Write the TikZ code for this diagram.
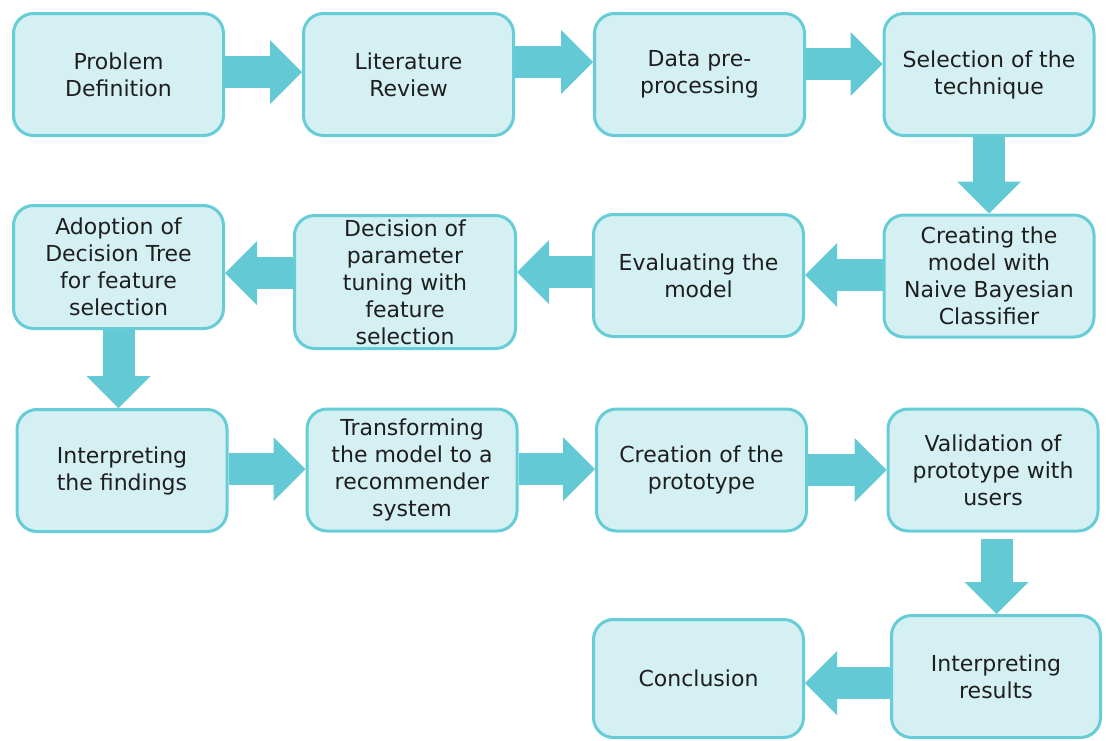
\documentclass[tikz,border=0pt]{standalone}
\usepackage{fontspec}
\setmainfont{DejaVu Sans}
\usetikzlibrary{arrows.meta}
\pgfdeclarelayer{background}
\pgfsetlayers{background,main}
\definecolor{boxfill}{RGB}{212,240,243}
\definecolor{boxedge}{RGB}{102,204,214}
\definecolor{flow}{RGB}{99,202,213}
\definecolor{ink}{RGB}{30,30,30}

\begin{document}
\begin{tikzpicture}[x=0.75pt,y=-0.75pt,
  stage/.style={draw=boxedge, fill=boxfill, line width=2.25pt,
    rounded corners=15pt, minimum width=157.5pt, minimum height=91.5pt,
    align=center, text=ink, inner sep=0pt,
    font=\fontsize{16.5}{20.25}\selectfont},
  flowarrow/.style={draw=flow, line width=24pt,
    -{Triangle[length=24pt 0, width=48pt 0, line width=0pt, fill=flow]}}
]
\useasboundingbox (0,0) rectangle (1106,740);

% row 1
\node[stage] (pd)  at (118.5,74.5) {Problem\\Definition};
\node[stage] (lr)  at (408.5,74.5) {Literature\\Review};
\node[stage] (dp)  at (699.5,74.5) {Data pre-\\processing};
\node[stage] (sel) at (989,74.5)   {Selection of the\\technique};

% row 2
\node[stage, minimum height=92.25pt] (ad) at (118.5,267)
  {Adoption of\\Decision Tree\\for feature\\selection};
\node[stage, minimum width=165.75pt, minimum height=99.75pt] (dec) at (405,282)
  {Decision of\\parameter\\tuning with\\feature\\selection};
\node[stage] (ev)  at (698.5,275.5) {Evaluating the\\model};
\node[stage] (cre) at (989,276)
  {Creating the\\model with\\Naive Bayesian\\Classifier};

% row 3
\node[stage] (if)  at (122,470.5) {Interpreting\\the findings};
\node[stage] (tr)  at (412,470)
  {Transforming\\the model to a\\recommender\\system};
\node[stage] (cp)  at (701.5,470) {Creation of the\\prototype};
\node[stage] (val) at (993,470)   {Validation of\\prototype with\\users};

% row 4
\node[stage, minimum height=88.5pt] (con) at (698.5,678.5) {Conclusion};
\node[stage, minimum width=156.75pt] (ir) at (996,676.5) {Interpreting\\results};

% block arrows behind the boxes
\begin{pgfonlayer}{background}
\draw[flowarrow] (pd.east |- 0,72) -- (lr.west |- 0,72);
\draw[flowarrow] (lr.east |- 0,62) -- (dp.west |- 0,62);
\draw[flowarrow] (dp.east |- 0,64) -- (sel.west |- 0,64);
\draw[flowarrow] (sel.south) -- (cre.north);
\draw[flowarrow] (cre.west |- 0,275) -- (ev.east |- 0,275);
\draw[flowarrow] (ev.west |- 0,272) -- (dec.east |- 0,272);
\draw[flowarrow] (dec.west |- 0,273) -- (ad.east |- 0,273);
\draw[flowarrow] (ad.south) -- (ad.south |- if.north);
\draw[flowarrow] (if.east |- 0,469) -- (tr.west |- 0,469);
\draw[flowarrow] (tr.east |- 0,469) -- (cp.west |- 0,469);
\draw[flowarrow] (cp.east |- 0,470) -- (val.west |- 0,470);
\draw[flowarrow, shorten <=5pt] (val.south -| 996.5,0) -- (ir.north -| 996.5,0);
\draw[flowarrow] (ir.west |- 0,683) -- (con.east |- 0,683);
\end{pgfonlayer}
\end{tikzpicture}
\end{document}
